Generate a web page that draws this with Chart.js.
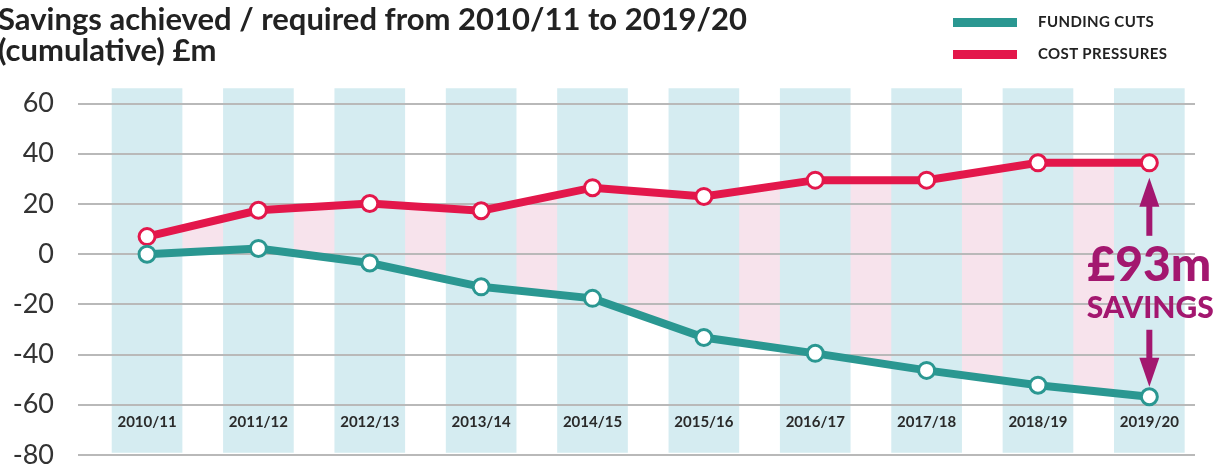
<!DOCTYPE html>
<html>
<head>
<meta charset="utf-8">
<script src="https://cdn.jsdelivr.net/npm/chart.js@4.4.1/dist/chart.umd.min.js"></script>
<style>
  body { margin: 0; background: #fff; }
  #wrap { position: relative; width: 1227px; height: 471px; overflow: hidden; }
  #title { position: absolute; left: -2px; top: 3px; font: bold 31px/31px Lato, sans-serif; color: #222; white-space: nowrap; }
  .key { position: absolute; left: 953px; font: bold 15px Lato, sans-serif; color: #222; letter-spacing: 0.4px; white-space: nowrap; }
  .key span { display: inline-block; width: 64px; height: 9px; margin-right: 21px; vertical-align: middle; position: relative; top: -1px; }
  #savingsChart { position: absolute; left: 0; top: 0; }
</style>
</head>
<body>
<div id="wrap">
  <canvas id="savingsChart" width="1227" height="471"></canvas>
  <div id="title">Savings achieved / required from 2010/11 to 2019/20<br>(cumulative) £m</div>
  <div class="key" style="top: 12px;"><span style="background:#2a9791"></span>FUNDING CUTS</div>
  <div class="key" style="top: 44px;"><span style="background:#e3174b"></span>COST PRESSURES</div>
</div>
<script>
const categories = ['2010/11', '2011/12', '2012/13', '2013/14', '2014/15', '2015/16', '2016/17', '2017/18', '2018/19', '2019/20'];
const costPressures = [7, 17.5, 20.2, 17.3, 26.5, 23, 29.5, 29.5, 36.4, 36.4];
const fundingCuts = [0, 2.3, -3.5, -13, -17.6, -33.2, -39.5, -46.3, -52.2, -56.8];
const bandRange = [-79, 66];
const yTicks = [-80, -60, -40, -20, 0, 20, 40, 60];
const categoryLabelY = -67; // the year labels sit inside the plot, near the bottom

const TEAL = '#2a9791';
const RED = '#e3174b';
const PLUM = '#a3176f';

function drawArrow(ctx, x, from, to) {
  const dir = Math.sign(to - from);
  const headLen = 29;
  ctx.beginPath();
  ctx.moveTo(x, from);
  ctx.lineTo(x, to - dir * headLen + dir * 2);
  ctx.lineWidth = 6;
  ctx.strokeStyle = PLUM;
  ctx.stroke();
  ctx.beginPath();
  ctx.moveTo(x, to);
  ctx.lineTo(x - 10, to - dir * headLen);
  ctx.lineTo(x + 10, to - dir * headLen);
  ctx.closePath();
  ctx.fillStyle = PLUM;
  ctx.fill();
}

const savingsPlugin = {
  id: 'savings',
  // put the grid back over the blue bands, but under the lines
  afterDatasetDraw(chart, args) {
    if (args.index !== 0) return;
    const { ctx, scales: { x, y } } = chart;
    y.drawGrid(chart.chartArea);
    // year labels
    ctx.save();
    ctx.fillStyle = '#2a2a2a';
    ctx.font = 'bold 15px Lato, sans-serif';
    ctx.textAlign = 'center';
    ctx.textBaseline = 'middle';
    categories.forEach((c, i) => {
      ctx.fillText(c, x.getPixelForValue(i), y.getPixelForValue(categoryLabelY));
    });
    ctx.restore();
  },
  afterDatasetsDraw(chart) {
    const { ctx, scales: { x, y } } = chart;
    const last = categories.length - 1;
    const px = x.getPixelForValue(last);
    const top = y.getPixelForValue(costPressures[last]);
    const bottom = y.getPixelForValue(fundingCuts[last]);
    const gap = Math.round(costPressures[last] - fundingCuts[last]);
    ctx.save();
    drawArrow(ctx, px, top + 73, top + 15);
    drawArrow(ctx, px, bottom - 67, bottom - 10);
    ctx.fillStyle = PLUM;
    ctx.textAlign = 'center';
    ctx.textBaseline = 'alphabetic';
    ctx.font = '900 48px Lato, sans-serif';
    ctx.fillText('£' + gap + 'm', px, top + 118);
    ctx.font = '900 30px Lato, sans-serif';
    ctx.fillText('SAVINGS', px + 1, top + 155);
    ctx.restore();
  }
};

const ctx = document.getElementById('savingsChart').getContext('2d');
new Chart(ctx, {
  data: {
    datasets: [{
      type: 'bar',
      label: 'bands',
      data: categories.map((c, i) => ({ x: i, y: bandRange })),
      backgroundColor: '#d5ecf1',
      barThickness: 70,
      order: 3
    }, {
      type: 'line',
      label: 'COST PRESSURES',
      data: costPressures.map((v, i) => ({ x: i, y: v })),
      borderColor: RED,
      borderWidth: 8,
      backgroundColor: '#f7e3ec',
      fill: '+1',
      tension: 0,
      pointRadius: 8,
      pointBorderWidth: 3,
      pointBackgroundColor: '#fff',
      pointBorderColor: RED,
      order: 2
    }, {
      type: 'line',
      label: 'FUNDING CUTS',
      data: fundingCuts.map((v, i) => ({ x: i, y: v })),
      borderColor: TEAL,
      borderWidth: 8,
      fill: false,
      tension: 0,
      pointRadius: 8,
      pointBorderWidth: 3,
      pointBackgroundColor: '#fff',
      pointBorderColor: TEAL,
      order: 1
    }]
  },
  options: {
    responsive: false,
    animation: false,
    layout: { padding: { top: 86, bottom: 16, right: 32, left: 0 } },
    plugins: {
      legend: { display: false },
      tooltip: { enabled: false },
      filler: { drawTime: 'beforeDatasetsDraw' }
    },
    scales: {
      x: {
        type: 'linear',
        display: false,
        offset: false,
        min: -0.62,
        max: 9.41
      },
      y: {
        min: -80,
        max: 67,
        // fixed gutter; the tick padding shouldn't push the plot up
        afterFit: s => { s.width = 78; s.paddingTop = 0; s.paddingBottom = 0; },
        afterBuildTicks: s => { s.ticks = yTicks.map(v => ({ value: v })); },
        grid: { color: '#b9b9b9', lineWidth: 2, drawTicks: false },
        border: { display: false },
        ticks: {
          padding: 24,
          color: '#333',
          font: { family: 'Lato', size: 27 }
        }
      }
    }
  },
  plugins: [savingsPlugin]
});
</script>
</body>
</html>
